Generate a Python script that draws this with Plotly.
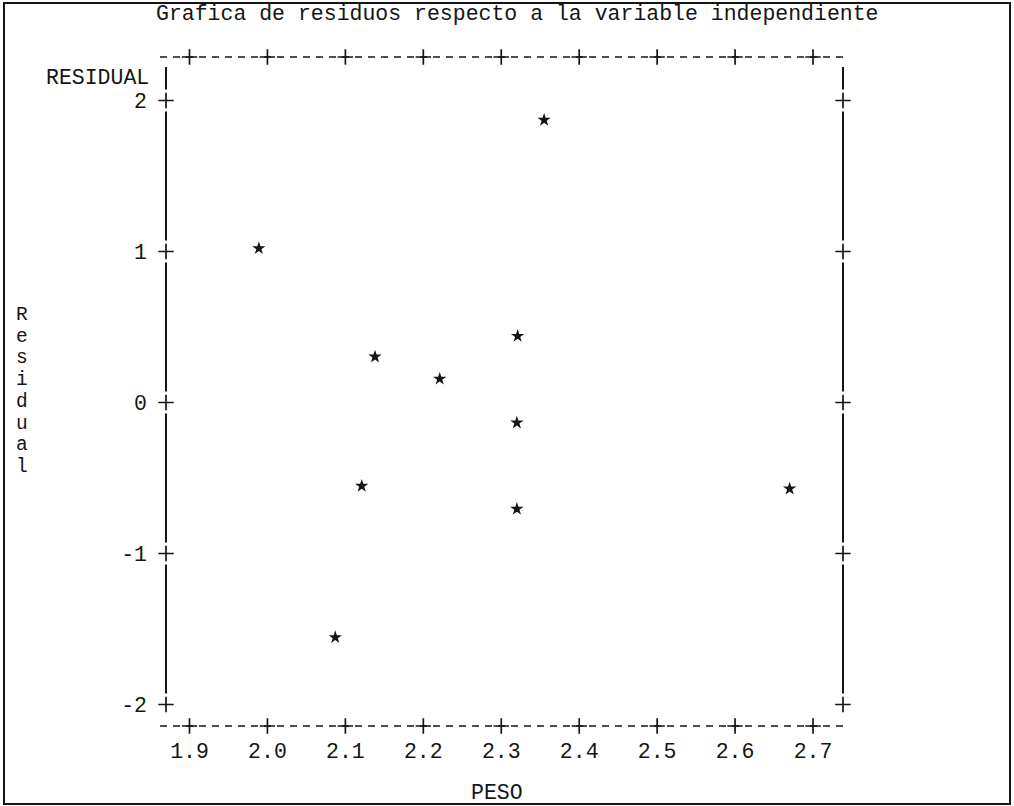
import plotly.graph_objects as go

# ---------------- data ----------------
peso = [1.989, 2.355, 2.138, 2.221, 2.321, 2.320, 2.320, 2.121, 2.087, 2.670]
residual = [1.021, 1.871, 0.303, 0.156, 0.440, -0.134, -0.705, -0.553, -1.555, -0.571]

x_tick_vals = [1.9, 2.0, 2.1, 2.2, 2.3, 2.4, 2.5, 2.6, 2.7]
x_tick_text = ["1.9", "2.0", "2.1", "2.2", "2.3", "2.4", "2.5", "2.6", "2.7"]
y_tick_vals = [-2, -1, 0, 1, 2]
y_tick_text = ["-2", "-1", "0", "1", "2"]

title_text = "Grafica de residuos respecto a la variable independiente"
x_title = "PESO"
y_title = "Residual"
y_unit = "RESIDUAL"

# ---------------- geometry (style only) ----------------
W, H = 1014, 806
FONT = "Liberation Mono, Courier New, monospace"
FS = 21.5
FS_V = 19.5
INK = "#151515"

PX_X0, PX_PER_X = 189.5, 779.4   # pixel of first x tick, pixels per x unit
PX_Y0, PX_PER_Y = 402.5, 151.0   # pixel of y=0, pixels per y unit


def px2x(p):
    return x_tick_vals[0] + (p - PX_X0) / PX_PER_X


def py2y(p):
    return (PX_Y0 - p) / PX_PER_Y


dom_x = (150, 860)
dom_y = (40, 740)
x_range = [px2x(dom_x[0]), px2x(dom_x[1])]
y_range = [py2y(dom_y[1]), py2y(dom_y[0])]

x_left, x_right = px2x(166), px2x(843)
x_dash0, x_dash1 = px2x(160), px2x(843)
y_top, y_bot = py2y(57), py2y(726)
y_line_top = py2y(67)
gap = 11 / PX_PER_Y

fig = go.Figure()

# vertical frame lines, broken around the '+' ticks
ys_sorted = sorted(y_tick_vals, reverse=True)
for xv in (x_left, x_right):
    vx, vy = [], []
    prev = y_line_top
    for t in ys_sorted:
        vx += [xv, xv, None]
        vy += [prev, t + gap, None]
        prev = t - gap
    fig.add_trace(go.Scatter(x=vx, y=vy, mode="lines",
                             line=dict(color=INK, width=2),
                             hoverinfo="skip", showlegend=False))

# dashed horizontal frame lines
for yv in (y_top, y_bot):
    fig.add_trace(go.Scatter(x=[x_dash0, x_dash1], y=[yv, yv], mode="lines",
                             line=dict(color=INK, width=1.5, dash="7px,6px"),
                             hoverinfo="skip", showlegend=False))

# '+' tick marks
px_, py_ = [], []
for t in x_tick_vals:
    px_ += [t, t]
    py_ += [y_top, y_bot]
for t in y_tick_vals:
    px_ += [x_left, x_right]
    py_ += [t, t]
fig.add_trace(go.Scatter(x=px_, y=py_, mode="markers",
                         marker=dict(symbol="cross-thin-open", size=11, color=INK,
                                     line=dict(color=INK, width=1.7)),
                         hoverinfo="skip", showlegend=False))

# data points
fig.add_trace(go.Scatter(x=peso, y=residual, mode="markers",
                         marker=dict(symbol="star", size=10, color=INK),
                         showlegend=False))

annotations = [
    dict(text=title_text, x=517 / W, y=1 - 14 / H, xref="paper", yref="paper",
         xanchor="center", yanchor="middle", showarrow=False,
         font=dict(family=FONT, size=FS, color=INK)),
    dict(text=y_unit, x=151 / W, y=1 - 78 / H, xref="paper", yref="paper",
         xanchor="right", yanchor="middle", showarrow=False,
         font=dict(family=FONT, size=FS, color=INK)),
    dict(text=x_title, x=497 / W, y=1 - 793 / H, xref="paper", yref="paper",
         xanchor="center", yanchor="middle", showarrow=False,
         font=dict(family=FONT, size=FS, color=INK)),
]
for i, ch in enumerate(y_title):
    annotations.append(dict(text=ch, x=22 / W, y=1 - (315 + i * 21.7) / H,
                            xref="paper", yref="paper", xanchor="center",
                            yanchor="middle", showarrow=False,
                            font=dict(family=FONT, size=FS_V, color=INK)))

fig.update_layout(
    width=W, height=H, autosize=False,
    margin=dict(l=0, r=0, t=0, b=0),
    paper_bgcolor="white", plot_bgcolor="white",
    showlegend=False,
    annotations=annotations,
    shapes=[dict(type="rect", xref="paper", yref="paper",
                 x0=4 / W, x1=1010 / W, y0=1 - 804 / H, y1=1 - 3 / H,
                 line=dict(color=INK, width=2))],
    xaxis=dict(domain=[dom_x[0] / W, dom_x[1] / W], range=x_range,
               anchor="free", position=1 - 726 / H,
               tickvals=x_tick_vals, ticktext=x_tick_text, ticks="",
               ticklabelstandoff=9,
               showgrid=False, zeroline=False, showline=False,
               tickfont=dict(family=FONT, size=FS, color=INK)),
    yaxis=dict(domain=[1 - dom_y[1] / H, 1 - dom_y[0] / H], range=y_range,
               anchor="free", position=166 / W,
               tickvals=y_tick_vals, ticktext=y_tick_text, ticks="",
               ticklabelstandoff=19,
               showgrid=False, zeroline=False, showline=False,
               tickfont=dict(family=FONT, size=FS, color=INK)),
)

fig.write_html("out.html")
